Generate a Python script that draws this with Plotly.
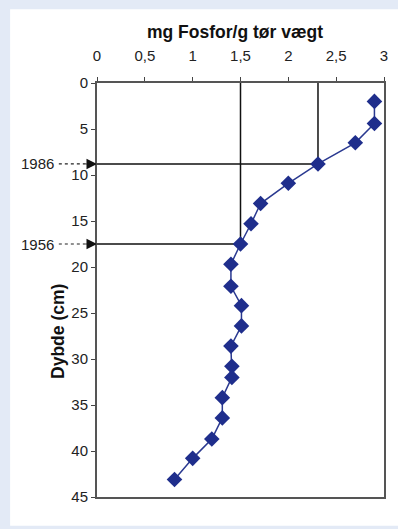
import plotly.graph_objects as go

# Data
phosphor = [2.90, 2.90, 2.70, 2.31, 2.00, 1.71, 1.61, 1.50, 1.40, 1.40,
            1.51, 1.51, 1.40, 1.41, 1.41, 1.31, 1.31, 1.20, 1.00, 0.81]
depth = [2.0, 4.4, 6.5, 8.8, 10.9, 13.1, 15.3, 17.5, 19.7, 22.1,
         24.2, 26.4, 28.6, 30.8, 32.0, 34.2, 36.4, 38.7, 40.8, 43.1]

date_labels = ["1986", "1956"]
date_depth = [8.8, 17.5]
date_phosphor = [2.31, 1.50]

x_tickvals = [0, 0.5, 1, 1.5, 2, 2.5, 3]
x_ticktext = ["0", "0,5", "1", "1,5", "2", "2,5", "3"]
y_tickvals = [0, 5, 10, 15, 20, 25, 30, 35, 40, 45]

FONT = "Liberation Sans, Arial, sans-serif"

fig = go.Figure()

# Dating guide lines
for p, d in zip(date_phosphor, date_depth):
    fig.add_trace(go.Scatter(x=[0, p, p], y=[d, d, 0], mode="lines",
                             line=dict(color="#111111", width=1.5),
                             hoverinfo="skip", showlegend=False))

fig.add_trace(go.Scatter(
    x=phosphor, y=depth, mode="lines+markers",
    line=dict(color="#2A3990", width=1.5),
    marker=dict(symbol="diamond", size=12, color="#1F2E8C"),
    showlegend=False))

# White panel
fig.add_shape(type="rect", xref="paper", yref="paper",
              x0=-0.3027, x1=1.1, y0=-0.0692, y1=1.178,
              fillcolor="white", line=dict(width=0), layer="below")

# Date labels with dotted arrows
for lab, d in zip(date_labels, date_depth):
    fig.add_annotation(x=-0.143, y=d, xref="paper", yref="y", text=lab,
                       showarrow=False, xanchor="right", yanchor="middle",
                       font=dict(family=FONT, size=15, color="#222222"))
    fig.add_shape(type="line", xref="paper", yref="y",
                  x0=-0.133, x1=-0.03, y0=d, y1=d,
                  line=dict(color="#222222", width=1.2, dash="dot"))
    fig.add_annotation(x=0, y=d, xref="x", yref="y", text="",
                       showarrow=True, arrowhead=2, arrowsize=1.4,
                       arrowwidth=1.5, arrowcolor="#111111",
                       ax=-12, ay=0)

fig.add_annotation(x=0.48, y=1.1223, xref="paper", yref="paper",
                   text="<b>mg Fosfor/g tør vægt</b>", showarrow=False,
                   xanchor="center", yanchor="middle",
                   font=dict(family=FONT, size=17.5, color="#111111"))
fig.add_annotation(x=-0.134, y=0.40, xref="paper", yref="paper",
                   text="<b>Dybde (cm)</b>", showarrow=False, textangle=-90,
                   xanchor="center", yanchor="middle",
                   font=dict(family=FONT, size=17.5, color="#111111"))

fig.update_xaxes(side="top", range=[0, 3], tickvals=x_tickvals,
                 ticktext=x_ticktext, ticks="outside", ticklen=4,
                 ticklabelstandoff=10,
                 tickcolor="#444444", showgrid=False, zeroline=False,
                 showline=True, linecolor="#555555", linewidth=2,
                 mirror=True, tickfont=dict(family=FONT, size=15, color="#222222"))
fig.update_yaxes(range=[45, 0], tickvals=y_tickvals, ticks="outside",
                 ticklen=4, tickcolor="#444444", showgrid=False,
                 zeroline=False, showline=True, linecolor="#555555",
                 linewidth=2, mirror=True,
                 tickfont=dict(family=FONT, size=15, color="#222222"))

fig.update_layout(width=398, height=529,
                  margin=dict(l=97, r=10, t=83, b=32),
                  paper_bgcolor="#E3EAF6", plot_bgcolor="white")

fig.write_html("out.html", config={"displayModeBar": False},
               post_script="document.body.style.margin='0px';")
